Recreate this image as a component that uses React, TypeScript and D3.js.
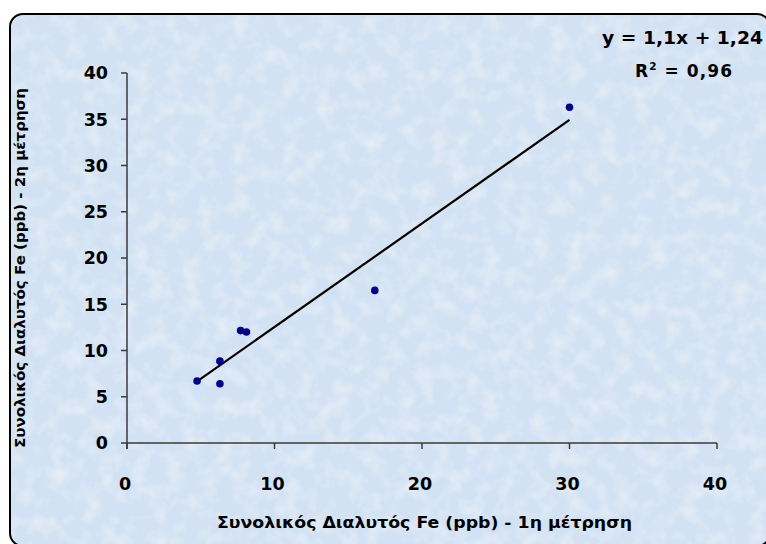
import React from "react";
import * as d3 from "d3";

const xValues = [4.75, 6.3, 6.3, 7.7, 8.1, 16.8, 30.0];
const yValues = [6.7, 8.85, 6.4, 12.15, 12.0, 16.5, 36.3];
const xTicks = [0, 10, 20, 30, 40];
const yTicks = [0, 5, 10, 15, 20, 25, 30, 35, 40];
const equationText = "y = 1,1x + 1,24";
const r2Label = "0,96";
const xTitle = "Συνολικός Διαλυτός Fe (ppb) - 1η μέτρηση";
const yTitle = "Συνολικός Διαλυτός Fe (ppb) - 2η μέτρηση";

const W = 766;
const H = 544;
const FONT = "'DejaVu Sans', Verdana, sans-serif";

export default function App() {
  const x = d3.scaleLinear().domain([0, 40]).range([127, 717]);
  const y = d3.scaleLinear().domain([0, 40]).range([443, 73]);

  const mx = d3.mean(xValues)!;
  const my = d3.mean(yValues)!;
  let sxy = 0, sxx = 0;
  xValues.forEach((v, i) => {
    sxy += (v - mx) * (yValues[i] - my);
    sxx += (v - mx) * (v - mx);
  });
  const slope = sxy / sxx;
  const intercept = my - slope * mx;
  const [x0, x1] = d3.extent(xValues) as [number, number];
  const line = d3.line<number>().x((d) => x(d)).y((d) => y(slope * d + intercept));

  const axisColor = "#3a3a3a";

  return (
    <svg width={W} height={H} style={{ position: "absolute", left: 0, top: 0 }} fontFamily={FONT}>
      <defs>
        <filter id="tex" x="0" y="0" width="100%" height="100%">
          <feTurbulence type="fractalNoise" baseFrequency="0.06" numOctaves="3" seed="3" result="n" />
          <feColorMatrix
            in="n"
            type="matrix"
            values="0 0 0 0 1  0 0 0 0 1  0 0 0 0 1  0 0 0 1.4 -0.6"
          />
        </filter>
        <clipPath id="clipR">
          <rect x={10} y={14} width={760} height={532} rx={13} ry={13} />
        </clipPath>
      </defs>
      <rect x={0} y={0} width={W} height={H} fill="#ffffff" />
      <rect x={10} y={14} width={760} height={532} rx={13} ry={13} fill="#d3e2f3" />
      <g clipPath="url(#clipR)">
        <rect x={10} y={14} width={760} height={532} filter="url(#tex)" opacity={0.6} />
      </g>
      <rect x={10} y={14} width={760} height={532} rx={13} ry={13} fill="none" stroke="#000" strokeWidth={2} />

      {/* axes */}
      <line x1={x(0)} x2={x(40)} y1={y(0)} y2={y(0)} stroke={axisColor} strokeWidth={1.5} />
      <line x1={x(0)} x2={x(0)} y1={y(0) + 6} y2={y(40)} stroke={axisColor} strokeWidth={1.5} />
      {yTicks.map((t) => (
        <g key={"y" + t}>
          <line x1={x(0) - 6} x2={x(0)} y1={y(t)} y2={y(t)} stroke={axisColor} strokeWidth={1.5} />
          <text x={108} y={y(t)} dy="0.36em" textAnchor="end" fontSize={17.5} fontWeight="bold" fill="#000">
            {t}
          </text>
        </g>
      ))}
      {xTicks.map((t) => (
        <g key={"x" + t}>
          <line x1={x(t)} x2={x(t)} y1={y(0)} y2={y(0) + 6} stroke={axisColor} strokeWidth={1.5} />
          <text x={x(t) - 2} y={484} dy="0.36em" textAnchor="middle" fontSize={17.5} fontWeight="bold" fill="#000">
            {t}
          </text>
        </g>
      ))}

      {/* trendline */}
      <path d={line([x0, x1]) || ""} fill="none" stroke="#000" strokeWidth={2.2} />

      {/* points */}
      {xValues.map((v, i) => (
        <circle key={i} cx={x(v)} cy={y(yValues[i])} r={3.8} fill="#00008b" />
      ))}

      {/* equation */}
      <text x={602} y={44} fontSize={17} fontWeight="bold" textLength={161} lengthAdjust="spacingAndGlyphs" fill="#000">
        {equationText}
      </text>
      <text x={635} y={77} fontSize={17} fontWeight="bold" fill="#000" textLength={97} lengthAdjust="spacing">
        R<tspan dy={-7} fontSize={10.5}>2</tspan>
        <tspan dy={7}>{" = " + r2Label}</tspan>
      </text>

      {/* axis titles */}
      <text x={424.5} y={528} textAnchor="middle" fontSize={15} fontWeight="bold" textLength={415} lengthAdjust="spacingAndGlyphs" fill="#000">
        {xTitle}
      </text>
      <text
        transform={`translate(25, 268) rotate(-90)`}
        textAnchor="middle"
        fontSize={14.5}
        fontWeight="bold"
        textLength={360}
        lengthAdjust="spacingAndGlyphs"
        fill="#000"
      >
        {yTitle}
      </text>
    </svg>
  );
}
